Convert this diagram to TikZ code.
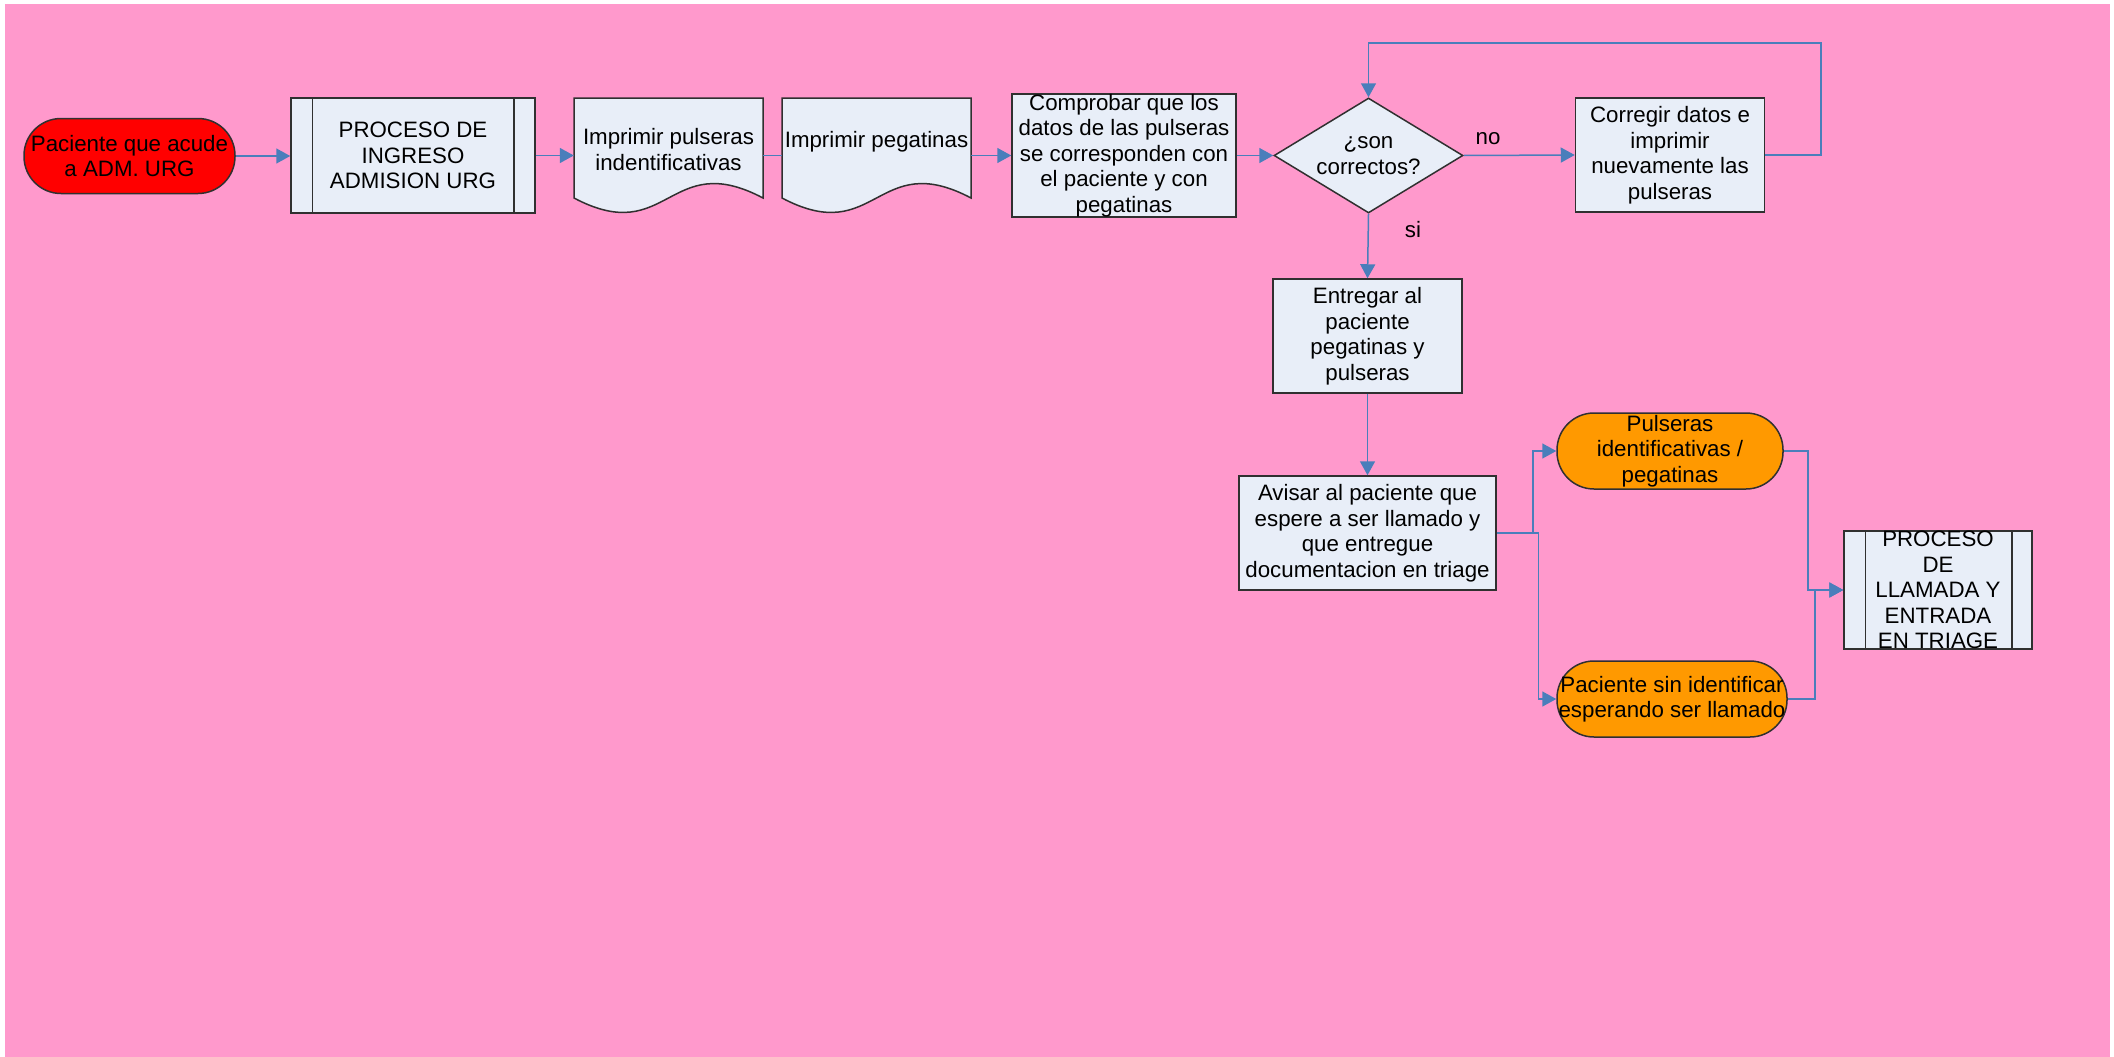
\documentclass[tikz,border=0pt]{standalone}
\usepackage{fontspec}
\setmainfont{Liberation Sans}
\usetikzlibrary{arrows.meta,shapes.geometric}
\definecolor{bgpink}{HTML}{FF99CC}
\definecolor{boxfill}{HTML}{E8EEF8}
\definecolor{linkblue}{HTML}{4A7EBB}
\definecolor{termorange}{HTML}{FF9900}
\definecolor{edgecol}{HTML}{303030}
\newcommand\drawdocshape[2]{%
  \draw[shapeline, fill=boxfill] (#1,98) -- (#2,98) -- (#2,198)
    .. controls ({#1+0.5*(#2-#1)},148) and ({#1+0.5*(#2-#1)},248) .. (#1,198) -- cycle;}
\begin{document}
\begin{tikzpicture}[x=1pt,y=-1pt,
  every node/.style={font=\fontsize{22.3}{25.5}\selectfont, align=center, inner sep=0pt},
  shapeline/.style={draw=edgecol, line width=1.5pt},
  box/.style={shapeline, fill=boxfill, rectangle},
  term/.style={shapeline, rectangle, rounded corners=37pt},
  link/.style={draw=linkblue, line width=1.5pt},
  arr/.style={link, -{Triangle[length=14pt,width=15pt]}}
]
\useasboundingbox (0,0) rectangle (2114,1057);
\fill[white] (0,0) rectangle (2114,1057);
\fill[bgpink] (5,4) rectangle (2110,1057);

% start terminal
\node[term, fill=red, minimum width=211pt, minimum height=75pt] (start) at (129.5,156) {Paciente que acude\\a ADM. URG};

% predefined process: ingreso
\node[box, minimum width=244pt, minimum height=115pt] (ingreso) at (413,155.5) {PROCESO DE\\INGRESO\\ADMISION URG};
\draw[shapeline] ([xshift=22pt]ingreso.north west) -- ([xshift=22pt]ingreso.south west);
\draw[shapeline] ([xshift=-22pt]ingreso.north east) -- ([xshift=-22pt]ingreso.south east);

% documents
\drawdocshape{574}{763}
\node[minimum width=189pt] (pulseras) at (668.5,149.5) {Imprimir pulseras\\indentificativas};
\drawdocshape{782}{971}
\node[minimum width=189pt] (pegatinas) at (876.5,142) {Imprimir pegatinas};

% comprobar
\node[box, minimum width=224pt, minimum height=115pt] (comprobar) at (1124,155.5) {Comprobar que los\\datos de las pulseras\\se corresponden con\\el paciente y con\\pegatinas};

% decision
\node[diamond, shapeline, fill=boxfill, aspect=1.64, minimum width=189pt, minimum height=115pt] (check) at (1368.5,155.5) {¿son\\correctos?};

% corregir
\node[box, minimum width=189pt, minimum height=114pt] (corregir) at (1670,155) {Corregir datos e\\imprimir\\nuevamente las\\pulseras};

% entregar
\node[box, minimum width=189pt, minimum height=114pt] (entregar) at (1367.5,336) {Entregar al\\paciente\\pegatinas y\\pulseras};

% avisar
\node[box, minimum width=257pt, minimum height=114pt] (avisar) at (1367.5,533) {Avisar al paciente que\\espere a ser llamado y\\que entregue\\documentacion en triage};

% orange terminals
\node[term, fill=termorange, minimum width=226pt, minimum height=76pt] (pulsterm) at (1670,451) {Pulseras\\identificativas /\\pegatinas};
\node[term, fill=termorange, minimum width=230pt, minimum height=76pt] (sinid) at (1672,699) {Paciente sin identificar\\esperando ser llamado};

% predefined process: llamada
\node[box, minimum width=188pt, minimum height=114pt] (llamada) at (1938,590) {PROCESO\\DE\\LLAMADA Y\\ENTRADA\\EN TRIAGE};
\draw[shapeline] ([xshift=22pt]llamada.north west) -- ([xshift=22pt]llamada.south west);
\draw[shapeline] ([xshift=-21pt]llamada.north east) -- ([xshift=-21pt]llamada.south east);

% labels
\node (nolbl) at (1488,139) {no};
\node (silbl) at (1413,230) {si};

% connectors
\coordinate (loop) at (1821,43);
\draw[arr] (start.east) -- (start.east -| ingreso.west);
\draw[arr] (ingreso.east) -- (ingreso.east -| pulseras.west);
\draw[link] (ingreso.east -| pulseras.east) -- (ingreso.east -| pegatinas.west);
\draw[arr] (ingreso.east -| pegatinas.east) -- (ingreso.east -| comprobar.west);
\draw[arr] (comprobar.east) -- (check.west);
\draw[arr] (check.east) -- (corregir.west);
\draw[arr] (corregir.east) -| (loop) -| (check.north);
\draw[arr] (check.south) -- (entregar.north);
\draw[arr] (entregar.south) -- (avisar.north);
\draw[arr] (avisar.east) -- ++(36,0) |- (pulsterm.west);
\draw[arr] (avisar.east) -- ++(41.5,0) |- (sinid.west);
\draw[arr] (pulsterm.east) -- ++(24,0) |- (llamada.west);
\draw[arr] (sinid.east) -- ++(27,0) |- (llamada.west);
\end{tikzpicture}
\end{document}
